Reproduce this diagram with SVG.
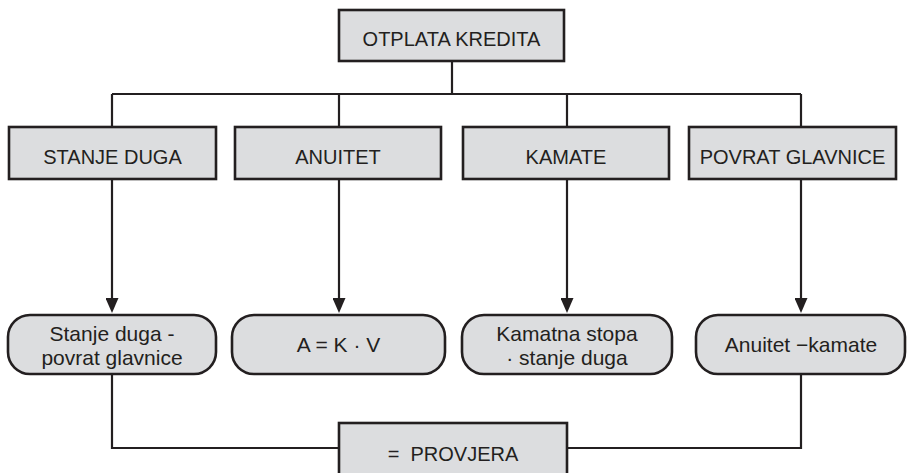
<svg xmlns="http://www.w3.org/2000/svg" width="907" height="473" viewBox="0 0 907 473">
<defs>
<style>
.box{fill:#dcdddf;stroke:#231f20;stroke-width:2.6}
.ln{fill:none;stroke:#231f20;stroke-width:2.2}
.t{font-family:"Liberation Sans",Arial,sans-serif;font-size:20px;fill:#231f20;text-anchor:middle}
.t2{font-family:"Liberation Sans",Arial,sans-serif;font-size:21px;fill:#231f20;text-anchor:middle}
</style>
<marker id="arr" viewBox="0 0 15 13" refX="7" refY="6.5" markerWidth="15" markerHeight="13" markerUnits="userSpaceOnUse" orient="auto">
<path d="M0,0 L15,6.5 L0,13 z" fill="#231f20"/>
</marker>
</defs>
<rect width="907" height="473" fill="#ffffff"/>
<g id="connectors">
<path class="ln" d="M452,61 V94 M112,94 H801 M112,94 V127 M339,94 V127 M567,94 V127 M801,94 V127"/>
<path class="ln" d="M112,179 V305" marker-end="url(#arr)"/>
<path class="ln" d="M339,179 V305" marker-end="url(#arr)"/>
<path class="ln" d="M567,179 V305" marker-end="url(#arr)"/>
<path class="ln" d="M801,179 V305" marker-end="url(#arr)"/>
<path class="ln" d="M112,374 V448 H339 M567,448 H801 V374"/>
</g>
<g id="otplata">
<rect class="box" x="339" y="10" width="225" height="51"/>
<text class="t" x="451.5" y="46">OTPLATA KREDITA</text>
</g>
<g id="stanje">
<rect class="box" x="9" y="127" width="207" height="52"/>
<text class="t" x="112.5" y="164">STANJE DUGA</text>
</g>
<g id="anuitet">
<rect class="box" x="235" y="127" width="206" height="52"/>
<text class="t" x="338" y="164">ANUITET</text>
</g>
<g id="kamate">
<rect class="box" x="463" y="127" width="206" height="52"/>
<text class="t" x="566" y="164">KAMATE</text>
</g>
<g id="povrat">
<rect class="box" x="689" y="127" width="207" height="52"/>
<text class="t" x="792.5" y="164">POVRAT GLAVNICE</text>
</g>
<g id="f-stanje">
<rect class="box" x="8" y="315" width="208" height="59" rx="22"/>
<text class="t2" x="112" y="341">Stanje duga -</text>
<text class="t2" x="112" y="365">povrat glavnice</text>
</g>
<g id="f-anuitet">
<rect class="box" x="232" y="315" width="213" height="59" rx="22"/>
<text class="t2" x="338.5" y="352">A = K · V</text>
</g>
<g id="f-kamate">
<rect class="box" x="462" y="315" width="210" height="59" rx="22"/>
<text class="t2" x="567" y="341">Kamatna stopa</text>
<text class="t2" x="567" y="365">· stanje duga</text>
</g>
<g id="f-povrat">
<rect class="box" x="696" y="315" width="209" height="59" rx="22"/>
<text class="t2" x="801" y="352">Anuitet −kamate</text>
</g>
<g id="provjera">
<rect class="box" x="339" y="423" width="228" height="60"/>
<text class="t" x="453" y="461" xml:space="preserve">=  PROVJERA</text>
</g>
</svg>
